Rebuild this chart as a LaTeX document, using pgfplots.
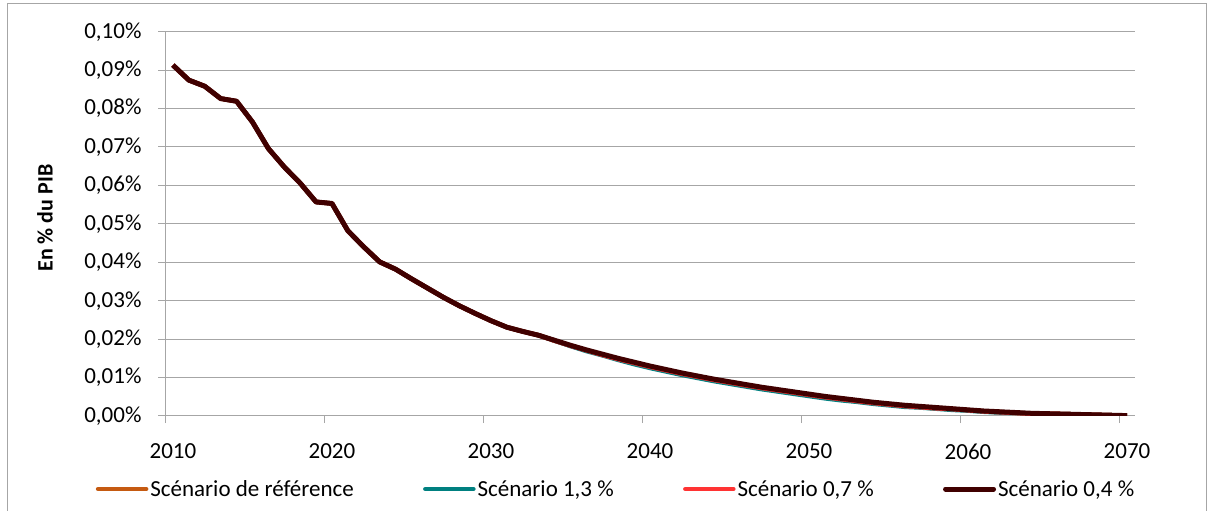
\documentclass[border=0pt]{standalone}
\usepackage{pgfplots}
\pgfplotsset{compat=1.18}
\usepackage{pgfplotstable}
\usepackage{fontspec}
\setmainfont{Carlito}

\definecolor{refc}{RGB}{197,90,17}
\definecolor{tealc}{RGB}{0,128,128}
\definecolor{redc}{RGB}{255,51,51}
\definecolor{darkc}{RGB}{64,0,0}
\definecolor{gridc}{RGB}{166,166,166}

% cost in % of GDP, per scenario
\pgfplotstableread{
year ref    s13    s07    s04
2010 0.0913 0.0913 0.0913 0.0913
2011 0.0874 0.0874 0.0874 0.0874
2012 0.0858 0.0858 0.0858 0.0858
2013 0.0826 0.0826 0.0826 0.0826
2014 0.0819 0.0819 0.0819 0.0819
2015 0.0765 0.0765 0.0765 0.0765
2016 0.0696 0.0696 0.0696 0.0696
2017 0.0648 0.0648 0.0648 0.0648
2018 0.0606 0.0606 0.0606 0.0606
2019 0.0557 0.0557 0.0557 0.0557
2020 0.0553 0.0553 0.0553 0.0553
2021 0.0482 0.0482 0.0482 0.0482
2022 0.0440 0.0440 0.0440 0.0440
2023 0.0401 0.0401 0.0401 0.0401
2024 0.0382 0.0382 0.0382 0.0382
2025 0.0357 0.0357 0.0357 0.0357
2026 0.0333 0.0333 0.0333 0.0333
2027 0.0309 0.0309 0.0309 0.0309
2028 0.0287 0.0287 0.0287 0.0287
2029 0.0267 0.0267 0.0267 0.0267
2030 0.0248 0.0248 0.0248 0.0248
2031 0.0231 0.0231 0.0231 0.0231
2032 0.0220 0.0220 0.0220 0.0220
2033 0.0210 0.0210 0.0210 0.0210
2034 0.0196 0.0196 0.0196 0.0197
2035 0.0183 0.0182 0.0183 0.0184
2036 0.0171 0.0169 0.0171 0.0172
2037 0.0159 0.0158 0.0159 0.0161
2038 0.0148 0.0146 0.0148 0.0150
2039 0.0138 0.0135 0.0138 0.0140
2040 0.0128 0.0125 0.0128 0.0130
2041 0.0119 0.0116 0.0119 0.0121
2042 0.0110 0.0107 0.0110 0.0112
2043 0.0102 0.0099 0.0102 0.0104
2044 0.0094 0.0091 0.0094 0.0096
2045 0.0087 0.0084 0.0087 0.0089
2046 0.0080 0.0077 0.0080 0.0082
2047 0.0073 0.0070 0.0073 0.0075
2048 0.0067 0.0064 0.0067 0.0069
2049 0.0061 0.0058 0.0061 0.0063
2050 0.0055 0.0052 0.0055 0.0057
2051 0.0049 0.0046 0.0049 0.0051
2052 0.0044 0.0041 0.0044 0.0046
2053 0.0039 0.0037 0.0039 0.0041
2054 0.0034 0.0032 0.0034 0.0036
2055 0.0030 0.0028 0.0030 0.0032
2056 0.0026 0.0024 0.0026 0.0028
2057 0.0023 0.0022 0.0023 0.0025
2058 0.0020 0.0019 0.0020 0.0022
2059 0.0018 0.0016 0.0018 0.0019
2060 0.0015 0.0014 0.0015 0.0016
2061 0.0012 0.0011 0.0012 0.0013
2062 0.0010 0.0009 0.0010 0.0011
2063 0.0008 0.0008 0.0008 0.0009
2064 0.0006 0.0006 0.0006 0.0007
2065 0.0006 0.0005 0.0006 0.0006
2066 0.0005 0.0005 0.0005 0.0005
2067 0.0004 0.0004 0.0004 0.0004
2068 0.0003 0.0003 0.0003 0.0003
2069 0.0002 0.0002 0.0002 0.0002
2070 0.0001 0.0001 0.0001 0.0001
}\data

\begin{document}
\begin{tikzpicture}
\useasboundingbox (0,0) rectangle (1212pt,511pt);
% chart frame
\draw[gridc, line width=1pt] (7pt,-5pt) -- (7pt,507pt) -- (1206pt,507pt) -- (1206pt,-5pt);
\begin{axis}[
    at={(165pt,95pt)}, anchor=south west,
    scale only axis,
    width=970pt, height=384.3pt,
    xmin=2009.5, xmax=2070.5,
    ymin=0, ymax=0.1,
    axis x line*=bottom, axis y line*=left,
    axis line style={gridc, line width=1pt, -},
    tick align=outside,
    major tick length=7pt,
    tick style={gridc, line width=1pt},
    xtick={2009.5,2019.5,2029.5,2039.5,2049.5,2059.5,2069.5},
    xticklabels={2010,2020,2030,2040,2050,2060,2070},
    xticklabel style={xshift=7.95pt, yshift=-17pt},
    ytick={0,0.01,0.02,0.03,0.04,0.05,0.06,0.07,0.08,0.09,0.1},
    yticklabels={{0,00\%},{0,01\%},{0,02\%},{0,03\%},{0,04\%},{0,05\%},{0,06\%},{0,07\%},{0,08\%},{0,09\%},{0,10\%}},
    yticklabel style={xshift=-13pt},
    tick label style={font=\fontsize{23}{27}\selectfont},
    ymajorgrids,
    grid style={gridc, line width=1pt},
    ylabel={En \% du PIB},
    ylabel style={at={(axis description cs:-0.1237,0.515)}, anchor=center, font=\fontsize{22}{26}\selectfont\bfseries},
    no markers,
    legend columns=4,
    legend cell align=left,
    legend style={at={(axis description cs:0.465,-0.19)}, anchor=center,
        draw=none, fill=none, font=\fontsize{23}{27}\selectfont,
        /tikz/every even column/.append style={column sep=67.3pt}},
    legend image code/.code={\draw[#1, line cap=round] (0pt,0pt) -- (48pt,0pt);},
]
\addplot[refc, line width=4.5pt, line join=round] table[x=year, y=ref] {\data};
\addlegendentry{Scénario de référence}
\addplot[tealc, line width=4.5pt, line join=round] table[x=year, y=s13] {\data};
\addlegendentry{Scénario 1,3 \%}
\addplot[redc, line width=4.5pt, line join=round] table[x=year, y=s07] {\data};
\addlegendentry{Scénario 0,7 \%}
\addplot[darkc, line width=5pt, line join=round] table[x=year, y=s04] {\data};
\addlegendentry{Scénario 0,4 \%}
\end{axis}
\end{tikzpicture}
\end{document}
